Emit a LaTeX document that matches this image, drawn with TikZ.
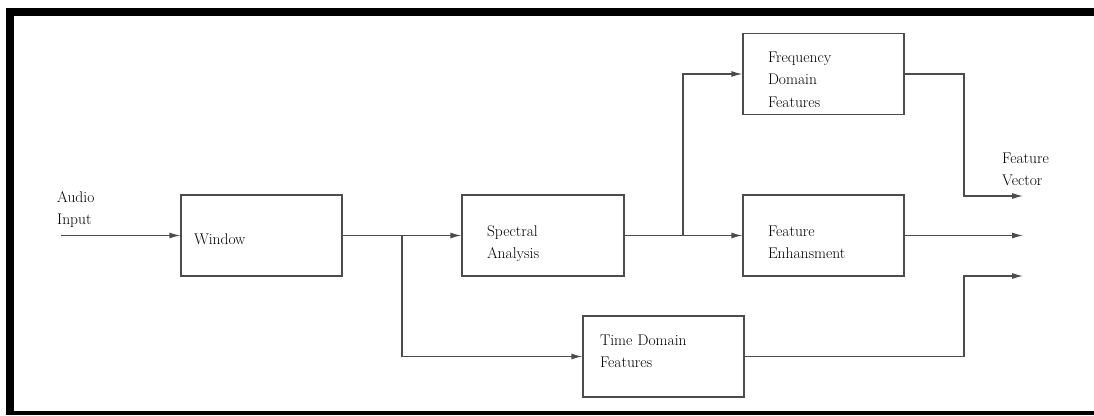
\documentclass[tikz,border=0pt]{standalone}
\usetikzlibrary{arrows.meta}
\begin{document}
\begin{tikzpicture}[x=1pt,y=-1pt,font=\fontsize{15.5}{22.5}\selectfont,
   blk/.style={draw=black!70,line width=1.2pt,minimum width=161pt,
               minimum height=81pt,align=left,inner ysep=0pt},
   pad/.style 2 args={inner xsep=#1,text width=#2},
   base/.style 2 args={text height=#1,text depth=#2},
   wire/.style={draw=black!70,line width=1.2pt},
   flow/.style={wire,-{Latex[length=11pt,width=6pt]}}]
  \useasboundingbox (0,0) rectangle (1094,415);
  % frame
  \fill (6,8) rectangle (14,415);
  \fill (6,8) rectangle (1094,16);
  \fill (6,411) rectangle (1094,415);
  % blocks
  \node[blk,pad={13pt}{135pt},base={38.5pt}{21.5pt}] (win) at (261.5,235.5) {Window};
  \node[blk,pad={25pt}{112pt},base={30.5pt}{29.5pt}] (spec) at (543,235.5) {Spectral\\Analysis};
  \node[blk,pad={25pt}{111pt},base={18pt}{42pt}] (freq) at (823.5,74) {Frequency\\Domain\\Features};
  \node[blk,pad={25pt}{111pt},base={30.5pt}{29.5pt}] (enh) at (823.5,235.5) {Feature\\Enhansment};
  \node[blk,pad={17pt}{127pt},base={18.5pt}{41.5pt}] (time) at (663.5,356.5) {Time Domain\\Features};
  \node[align=left,anchor=west,inner sep=0pt] (ain) at (57,209.5) {Audio\\Input};
  \node[align=left,anchor=west,inner sep=0pt] (fvec) at (1002,169.5) {Feature\\Vector};
  % junctions and ends
  \coordinate (in) at (61,235.5);
  \coordinate (sp1) at (402,235.5);
  \coordinate (sp2) at (683,235.5);
  \coordinate (k1) at (964,196);
  \coordinate (k3) at (964,276);
  \coordinate (o1) at (1023,196);
  \coordinate (o2) at (1023,235.5);
  \coordinate (o3) at (1023,276);
  % connectors
  \draw[flow] (in) -- (win);
  \draw[wire] (win) -- (sp1);
  \draw[flow] (sp1) -- (spec);
  \draw[flow] (sp1) |- (time);
  \draw[wire] (spec) -- (sp2);
  \draw[flow] (sp2) |- (freq);
  \draw[flow] (sp2) -- (enh);
  \draw[flow] (freq) -| (k1) -- (o1);
  \draw[flow] (enh) -- (o2);
  \draw[flow] (time) -| (k3) -- (o3);
\end{tikzpicture}
\end{document}
